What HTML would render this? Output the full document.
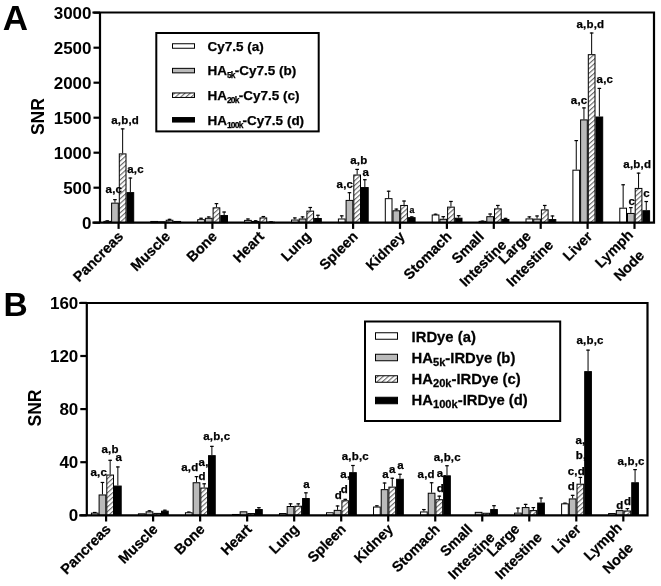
<!DOCTYPE html>
<html><head><meta charset="utf-8"><style>
html,body{margin:0;padding:0;background:#fff;}
svg{display:block;will-change:transform;filter:blur(0.35px);font-family:"Liberation Sans", Arial, sans-serif;font-weight:bold;}
.h{stroke:#000;stroke-width:0.25px;}
</style></head><body>
<svg width="661" height="586" viewBox="0 0 661 586">
<defs>
<pattern id="hatch" patternUnits="userSpaceOnUse" width="3.5" height="3.5" patternTransform="rotate(48)">
<rect width="3.5" height="3.5" fill="#fff"/>
<line x1="0.6" y1="0" x2="0.6" y2="3.5" stroke="#555" stroke-width="1.0"/>
</pattern>
</defs>


<line x1="107.25" y1="220.88" x2="107.25" y2="220.32" stroke="#000" stroke-width="1"/>
<line x1="105.45" y1="220.82" x2="109.05" y2="220.82" stroke="#000" stroke-width="1.2"/>
<rect x="103.90" y="221.38" width="6.70" height="1.32" fill="#fff" stroke="#000" stroke-width="1"/>
<line x1="114.95" y1="202.64" x2="114.95" y2="199.14" stroke="#000" stroke-width="1"/>
<line x1="113.15" y1="199.64" x2="116.75" y2="199.64" stroke="#000" stroke-width="1.2"/>
<rect x="111.60" y="203.14" width="6.70" height="19.56" fill="#bababa" stroke="#000" stroke-width="1"/>
<line x1="122.65" y1="153.41" x2="122.65" y2="128.38" stroke="#000" stroke-width="1"/>
<line x1="120.85" y1="128.88" x2="124.45" y2="128.88" stroke="#000" stroke-width="1.2"/>
<rect x="119.30" y="153.91" width="6.70" height="68.79" fill="url(#hatch)" stroke="#000" stroke-width="1"/>
<line x1="130.35" y1="192.12" x2="130.35" y2="177.54" stroke="#000" stroke-width="1"/>
<line x1="128.55" y1="178.04" x2="132.15" y2="178.04" stroke="#000" stroke-width="1.2"/>
<rect x="127.00" y="192.62" width="6.70" height="30.08" fill="#000" stroke="#000" stroke-width="1"/>
<rect x="150.80" y="221.45" width="6.70" height="1.25" fill="#fff" stroke="#000" stroke-width="1"/>
<rect x="158.50" y="221.80" width="6.70" height="0.90" fill="#bababa" stroke="#000" stroke-width="1"/>
<line x1="169.55" y1="219.75" x2="169.55" y2="218.84" stroke="#000" stroke-width="1"/>
<line x1="167.75" y1="219.34" x2="171.35" y2="219.34" stroke="#000" stroke-width="1.2"/>
<rect x="166.20" y="220.25" width="6.70" height="2.45" fill="url(#hatch)" stroke="#000" stroke-width="1"/>
<rect x="173.90" y="221.45" width="6.70" height="1.25" fill="#000" stroke="#000" stroke-width="1"/>
<line x1="201.05" y1="219.19" x2="201.05" y2="217.79" stroke="#000" stroke-width="1"/>
<line x1="199.25" y1="218.29" x2="202.85" y2="218.29" stroke="#000" stroke-width="1.2"/>
<rect x="197.70" y="219.69" width="6.70" height="3.01" fill="#fff" stroke="#000" stroke-width="1"/>
<line x1="208.75" y1="217.79" x2="208.75" y2="216.46" stroke="#000" stroke-width="1"/>
<line x1="206.95" y1="216.96" x2="210.55" y2="216.96" stroke="#000" stroke-width="1.2"/>
<rect x="205.40" y="218.29" width="6.70" height="4.41" fill="#bababa" stroke="#000" stroke-width="1"/>
<line x1="216.45" y1="207.34" x2="216.45" y2="203.13" stroke="#000" stroke-width="1"/>
<line x1="214.65" y1="203.63" x2="218.25" y2="203.63" stroke="#000" stroke-width="1.2"/>
<rect x="213.10" y="207.84" width="6.70" height="14.86" fill="url(#hatch)" stroke="#000" stroke-width="1"/>
<line x1="224.15" y1="215.06" x2="224.15" y2="211.55" stroke="#000" stroke-width="1"/>
<line x1="222.35" y1="212.05" x2="225.95" y2="212.05" stroke="#000" stroke-width="1.2"/>
<rect x="220.80" y="215.56" width="6.70" height="7.14" fill="#000" stroke="#000" stroke-width="1"/>
<line x1="247.95" y1="219.89" x2="247.95" y2="218.49" stroke="#000" stroke-width="1"/>
<line x1="246.15" y1="218.99" x2="249.75" y2="218.99" stroke="#000" stroke-width="1.2"/>
<rect x="244.60" y="220.39" width="6.70" height="2.31" fill="#fff" stroke="#000" stroke-width="1"/>
<line x1="255.65" y1="220.95" x2="255.65" y2="220.25" stroke="#000" stroke-width="1"/>
<line x1="253.85" y1="220.75" x2="257.45" y2="220.75" stroke="#000" stroke-width="1.2"/>
<rect x="252.30" y="221.45" width="6.70" height="1.25" fill="#bababa" stroke="#000" stroke-width="1"/>
<line x1="263.35" y1="217.44" x2="263.35" y2="216.04" stroke="#000" stroke-width="1"/>
<line x1="261.55" y1="216.54" x2="265.15" y2="216.54" stroke="#000" stroke-width="1.2"/>
<rect x="260.00" y="217.94" width="6.70" height="4.76" fill="url(#hatch)" stroke="#000" stroke-width="1"/>
<line x1="271.05" y1="221.65" x2="271.05" y2="221.30" stroke="#000" stroke-width="1"/>
<line x1="269.25" y1="221.80" x2="272.85" y2="221.80" stroke="#000" stroke-width="1.2"/>
<rect x="267.70" y="222.15" width="6.70" height="0.55" fill="#000" stroke="#000" stroke-width="1"/>
<line x1="294.85" y1="219.54" x2="294.85" y2="217.44" stroke="#000" stroke-width="1"/>
<line x1="293.05" y1="217.94" x2="296.65" y2="217.94" stroke="#000" stroke-width="1.2"/>
<rect x="291.50" y="220.04" width="6.70" height="2.66" fill="#fff" stroke="#000" stroke-width="1"/>
<line x1="302.55" y1="218.49" x2="302.55" y2="216.39" stroke="#000" stroke-width="1"/>
<line x1="300.75" y1="216.89" x2="304.35" y2="216.89" stroke="#000" stroke-width="1.2"/>
<rect x="299.20" y="218.99" width="6.70" height="3.71" fill="#bababa" stroke="#000" stroke-width="1"/>
<line x1="310.25" y1="210.64" x2="310.25" y2="206.99" stroke="#000" stroke-width="1"/>
<line x1="308.45" y1="207.49" x2="312.05" y2="207.49" stroke="#000" stroke-width="1.2"/>
<rect x="306.90" y="211.14" width="6.70" height="11.56" fill="url(#hatch)" stroke="#000" stroke-width="1"/>
<line x1="317.95" y1="218.00" x2="317.95" y2="214.78" stroke="#000" stroke-width="1"/>
<line x1="316.15" y1="215.28" x2="319.75" y2="215.28" stroke="#000" stroke-width="1.2"/>
<rect x="314.60" y="218.50" width="6.70" height="4.20" fill="#000" stroke="#000" stroke-width="1"/>
<line x1="341.75" y1="218.49" x2="341.75" y2="215.34" stroke="#000" stroke-width="1"/>
<line x1="339.95" y1="215.84" x2="343.55" y2="215.84" stroke="#000" stroke-width="1.2"/>
<rect x="338.40" y="218.99" width="6.70" height="3.71" fill="#fff" stroke="#000" stroke-width="1"/>
<line x1="349.45" y1="199.91" x2="349.45" y2="192.19" stroke="#000" stroke-width="1"/>
<line x1="347.65" y1="192.69" x2="351.25" y2="192.69" stroke="#000" stroke-width="1.2"/>
<rect x="346.10" y="200.41" width="6.70" height="22.29" fill="#bababa" stroke="#000" stroke-width="1"/>
<line x1="357.15" y1="174.52" x2="357.15" y2="168.91" stroke="#000" stroke-width="1"/>
<line x1="355.35" y1="169.41" x2="358.95" y2="169.41" stroke="#000" stroke-width="1.2"/>
<rect x="353.80" y="175.02" width="6.70" height="47.68" fill="url(#hatch)" stroke="#000" stroke-width="1"/>
<line x1="364.85" y1="187.07" x2="364.85" y2="179.22" stroke="#000" stroke-width="1"/>
<line x1="363.05" y1="179.72" x2="366.65" y2="179.72" stroke="#000" stroke-width="1.2"/>
<rect x="361.50" y="187.57" width="6.70" height="35.13" fill="#000" stroke="#000" stroke-width="1"/>
<line x1="388.65" y1="198.15" x2="388.65" y2="190.72" stroke="#000" stroke-width="1"/>
<line x1="386.85" y1="191.22" x2="390.45" y2="191.22" stroke="#000" stroke-width="1.2"/>
<rect x="385.30" y="198.65" width="6.70" height="24.05" fill="#fff" stroke="#000" stroke-width="1"/>
<line x1="396.35" y1="210.29" x2="396.35" y2="208.60" stroke="#000" stroke-width="1"/>
<line x1="394.55" y1="209.10" x2="398.15" y2="209.10" stroke="#000" stroke-width="1.2"/>
<rect x="393.00" y="210.79" width="6.70" height="11.91" fill="#bababa" stroke="#000" stroke-width="1"/>
<line x1="404.05" y1="204.96" x2="404.05" y2="200.54" stroke="#000" stroke-width="1"/>
<line x1="402.25" y1="201.04" x2="405.85" y2="201.04" stroke="#000" stroke-width="1.2"/>
<rect x="400.70" y="205.46" width="6.70" height="17.24" fill="url(#hatch)" stroke="#000" stroke-width="1"/>
<line x1="411.75" y1="217.16" x2="411.75" y2="216.39" stroke="#000" stroke-width="1"/>
<line x1="409.95" y1="216.89" x2="413.55" y2="216.89" stroke="#000" stroke-width="1.2"/>
<rect x="408.40" y="217.66" width="6.70" height="5.04" fill="#000" stroke="#000" stroke-width="1"/>
<line x1="435.55" y1="214.49" x2="435.55" y2="213.72" stroke="#000" stroke-width="1"/>
<line x1="433.75" y1="214.22" x2="437.35" y2="214.22" stroke="#000" stroke-width="1.2"/>
<rect x="432.20" y="214.99" width="6.70" height="7.71" fill="#fff" stroke="#000" stroke-width="1"/>
<line x1="443.25" y1="218.77" x2="443.25" y2="216.18" stroke="#000" stroke-width="1"/>
<line x1="441.45" y1="216.68" x2="445.05" y2="216.68" stroke="#000" stroke-width="1.2"/>
<rect x="439.90" y="219.27" width="6.70" height="3.43" fill="#bababa" stroke="#000" stroke-width="1"/>
<line x1="450.95" y1="206.64" x2="450.95" y2="200.96" stroke="#000" stroke-width="1"/>
<line x1="449.15" y1="201.46" x2="452.75" y2="201.46" stroke="#000" stroke-width="1.2"/>
<rect x="447.60" y="207.14" width="6.70" height="15.56" fill="url(#hatch)" stroke="#000" stroke-width="1"/>
<line x1="458.65" y1="217.72" x2="458.65" y2="215.20" stroke="#000" stroke-width="1"/>
<line x1="456.85" y1="215.70" x2="460.45" y2="215.70" stroke="#000" stroke-width="1.2"/>
<rect x="455.30" y="218.22" width="6.70" height="4.48" fill="#000" stroke="#000" stroke-width="1"/>
<line x1="482.45" y1="220.88" x2="482.45" y2="220.60" stroke="#000" stroke-width="1"/>
<line x1="480.65" y1="221.10" x2="484.25" y2="221.10" stroke="#000" stroke-width="1.2"/>
<rect x="479.10" y="221.38" width="6.70" height="1.32" fill="#fff" stroke="#000" stroke-width="1"/>
<line x1="490.15" y1="216.18" x2="490.15" y2="213.51" stroke="#000" stroke-width="1"/>
<line x1="488.35" y1="214.01" x2="491.95" y2="214.01" stroke="#000" stroke-width="1.2"/>
<rect x="486.80" y="216.68" width="6.70" height="6.02" fill="#bababa" stroke="#000" stroke-width="1"/>
<line x1="497.85" y1="208.39" x2="497.85" y2="204.96" stroke="#000" stroke-width="1"/>
<line x1="496.05" y1="205.46" x2="499.65" y2="205.46" stroke="#000" stroke-width="1.2"/>
<rect x="494.50" y="208.89" width="6.70" height="13.81" fill="url(#hatch)" stroke="#000" stroke-width="1"/>
<line x1="505.55" y1="218.98" x2="505.55" y2="217.86" stroke="#000" stroke-width="1"/>
<line x1="503.75" y1="218.36" x2="507.35" y2="218.36" stroke="#000" stroke-width="1.2"/>
<rect x="502.20" y="219.48" width="6.70" height="3.22" fill="#000" stroke="#000" stroke-width="1"/>
<line x1="529.35" y1="218.42" x2="529.35" y2="216.39" stroke="#000" stroke-width="1"/>
<line x1="527.55" y1="216.89" x2="531.15" y2="216.89" stroke="#000" stroke-width="1.2"/>
<rect x="526.00" y="218.92" width="6.70" height="3.78" fill="#fff" stroke="#000" stroke-width="1"/>
<line x1="537.05" y1="218.63" x2="537.05" y2="215.48" stroke="#000" stroke-width="1"/>
<line x1="535.25" y1="215.98" x2="538.85" y2="215.98" stroke="#000" stroke-width="1.2"/>
<rect x="533.70" y="219.13" width="6.70" height="3.57" fill="#bababa" stroke="#000" stroke-width="1"/>
<line x1="544.75" y1="209.38" x2="544.75" y2="204.96" stroke="#000" stroke-width="1"/>
<line x1="542.95" y1="205.46" x2="546.55" y2="205.46" stroke="#000" stroke-width="1.2"/>
<rect x="541.40" y="209.88" width="6.70" height="12.82" fill="url(#hatch)" stroke="#000" stroke-width="1"/>
<line x1="552.45" y1="219.05" x2="552.45" y2="215.48" stroke="#000" stroke-width="1"/>
<line x1="550.65" y1="215.98" x2="554.25" y2="215.98" stroke="#000" stroke-width="1.2"/>
<rect x="549.10" y="219.55" width="6.70" height="3.15" fill="#000" stroke="#000" stroke-width="1"/>
<line x1="576.25" y1="169.68" x2="576.25" y2="140.09" stroke="#000" stroke-width="1"/>
<line x1="574.45" y1="140.59" x2="578.05" y2="140.59" stroke="#000" stroke-width="1.2"/>
<rect x="572.90" y="170.18" width="6.70" height="52.52" fill="#fff" stroke="#000" stroke-width="1"/>
<line x1="583.95" y1="119.40" x2="583.95" y2="107.41" stroke="#000" stroke-width="1"/>
<line x1="582.15" y1="107.91" x2="585.75" y2="107.91" stroke="#000" stroke-width="1.2"/>
<rect x="580.60" y="119.90" width="6.70" height="102.80" fill="#bababa" stroke="#000" stroke-width="1"/>
<line x1="591.65" y1="54.18" x2="591.65" y2="32.51" stroke="#000" stroke-width="1"/>
<line x1="589.85" y1="33.01" x2="593.45" y2="33.01" stroke="#000" stroke-width="1.2"/>
<rect x="588.30" y="54.68" width="6.70" height="168.02" fill="url(#hatch)" stroke="#000" stroke-width="1"/>
<line x1="599.35" y1="116.52" x2="599.35" y2="87.91" stroke="#000" stroke-width="1"/>
<line x1="597.55" y1="88.41" x2="601.15" y2="88.41" stroke="#000" stroke-width="1.2"/>
<rect x="596.00" y="117.02" width="6.70" height="105.68" fill="#000" stroke="#000" stroke-width="1"/>
<line x1="623.15" y1="207.69" x2="623.15" y2="184.27" stroke="#000" stroke-width="1"/>
<line x1="621.35" y1="184.77" x2="624.95" y2="184.77" stroke="#000" stroke-width="1.2"/>
<rect x="619.80" y="208.19" width="6.70" height="14.51" fill="#fff" stroke="#000" stroke-width="1"/>
<line x1="630.85" y1="212.95" x2="630.85" y2="207.13" stroke="#000" stroke-width="1"/>
<line x1="629.05" y1="207.63" x2="632.65" y2="207.63" stroke="#000" stroke-width="1.2"/>
<rect x="627.50" y="213.45" width="6.70" height="9.25" fill="#bababa" stroke="#000" stroke-width="1"/>
<line x1="638.55" y1="187.92" x2="638.55" y2="172.63" stroke="#000" stroke-width="1"/>
<line x1="636.75" y1="173.13" x2="640.35" y2="173.13" stroke="#000" stroke-width="1.2"/>
<rect x="635.20" y="188.42" width="6.70" height="34.28" fill="url(#hatch)" stroke="#000" stroke-width="1"/>
<line x1="646.25" y1="210.22" x2="646.25" y2="201.03" stroke="#000" stroke-width="1"/>
<line x1="644.45" y1="201.53" x2="648.05" y2="201.53" stroke="#000" stroke-width="1.2"/>
<rect x="642.90" y="210.72" width="6.70" height="11.98" fill="#000" stroke="#000" stroke-width="1"/>
<text class="h" x="105.55" y="193.30" font-size="11.5" letter-spacing="0.2">a,c</text>
<text class="h" x="111.25" y="124.00" font-size="11.5" letter-spacing="0.2">a,b,d</text>
<text class="h" x="127.15" y="172.50" font-size="11.5" letter-spacing="0.2">a,c</text>
<text class="h" x="336.55" y="188.40" font-size="11.5" letter-spacing="0.2">a,c</text>
<text class="h" x="350.25" y="164.20" font-size="11.5" letter-spacing="0.2">a,b</text>
<text class="h" x="362.55" y="175.50" font-size="11.5" letter-spacing="0.2">a</text>
<text class="h" x="409.55" y="212.60" font-size="8.8" letter-spacing="0.2">a</text>
<text class="h" x="570.85" y="103.70" font-size="11.5" letter-spacing="0.2">a,c</text>
<text class="h" x="576.45" y="27.80" font-size="11.5" letter-spacing="0.2">a,b,d</text>
<text class="h" x="596.55" y="82.70" font-size="11.5" letter-spacing="0.2">a,c</text>
<text class="h" x="628.45" y="204.60" font-size="11.5" letter-spacing="0.2">c</text>
<text class="h" x="623.35" y="168.30" font-size="11.5" letter-spacing="0.2">a,b,d</text>
<text class="h" x="643.25" y="197.40" font-size="11.5" letter-spacing="0.2">c</text>
<path d="M100,12.5 V222.7 M93.5,222.7 H654 V12.5 H93.5" fill="none" stroke="#000" stroke-width="2.2" stroke-linecap="square"/>
<line x1="93.5" y1="222.70" x2="100" y2="222.70" stroke="#000" stroke-width="2.2"/>
<text x="91.5" y="228.80" font-size="17" text-anchor="end">0</text>
<line x1="93.5" y1="187.70" x2="100" y2="187.70" stroke="#000" stroke-width="2.2"/>
<text x="91.5" y="193.80" font-size="17" text-anchor="end">500</text>
<line x1="93.5" y1="152.70" x2="100" y2="152.70" stroke="#000" stroke-width="2.2"/>
<text x="91.5" y="158.80" font-size="17" text-anchor="end">1000</text>
<line x1="93.5" y1="117.70" x2="100" y2="117.70" stroke="#000" stroke-width="2.2"/>
<text x="91.5" y="123.80" font-size="17" text-anchor="end">1500</text>
<line x1="93.5" y1="82.70" x2="100" y2="82.70" stroke="#000" stroke-width="2.2"/>
<text x="91.5" y="88.80" font-size="17" text-anchor="end">2000</text>
<line x1="93.5" y1="47.70" x2="100" y2="47.70" stroke="#000" stroke-width="2.2"/>
<text x="91.5" y="53.80" font-size="17" text-anchor="end">2500</text>
<line x1="93.5" y1="12.70" x2="100" y2="12.70" stroke="#000" stroke-width="2.2"/>
<text x="91.5" y="18.80" font-size="17" text-anchor="end">3000</text>
<line x1="118.60" y1="222.7" x2="118.60" y2="228.89999999999998" stroke="#000" stroke-width="2.2"/>
<line x1="165.50" y1="222.7" x2="165.50" y2="228.89999999999998" stroke="#000" stroke-width="2.2"/>
<line x1="212.40" y1="222.7" x2="212.40" y2="228.89999999999998" stroke="#000" stroke-width="2.2"/>
<line x1="259.30" y1="222.7" x2="259.30" y2="228.89999999999998" stroke="#000" stroke-width="2.2"/>
<line x1="306.20" y1="222.7" x2="306.20" y2="228.89999999999998" stroke="#000" stroke-width="2.2"/>
<line x1="353.10" y1="222.7" x2="353.10" y2="228.89999999999998" stroke="#000" stroke-width="2.2"/>
<line x1="400.00" y1="222.7" x2="400.00" y2="228.89999999999998" stroke="#000" stroke-width="2.2"/>
<line x1="446.90" y1="222.7" x2="446.90" y2="228.89999999999998" stroke="#000" stroke-width="2.2"/>
<line x1="493.80" y1="222.7" x2="493.80" y2="228.89999999999998" stroke="#000" stroke-width="2.2"/>
<line x1="540.70" y1="222.7" x2="540.70" y2="228.89999999999998" stroke="#000" stroke-width="2.2"/>
<line x1="587.60" y1="222.7" x2="587.60" y2="228.89999999999998" stroke="#000" stroke-width="2.2"/>
<line x1="634.50" y1="222.7" x2="634.50" y2="228.89999999999998" stroke="#000" stroke-width="2.2"/>
<text class="h" transform="translate(124.20,237.40) rotate(-45)" font-size="14.4" text-anchor="end">Pancreas</text>
<text class="h" transform="translate(171.10,237.40) rotate(-45)" font-size="14.4" text-anchor="end">Muscle</text>
<text class="h" transform="translate(218.00,237.40) rotate(-45)" font-size="14.4" text-anchor="end">Bone</text>
<text class="h" transform="translate(264.90,237.40) rotate(-45)" font-size="14.4" text-anchor="end">Heart</text>
<text class="h" transform="translate(311.80,237.40) rotate(-45)" font-size="14.4" text-anchor="end">Lung</text>
<text class="h" transform="translate(358.70,237.40) rotate(-45)" font-size="14.4" text-anchor="end">Spleen</text>
<text class="h" transform="translate(405.60,237.40) rotate(-45)" font-size="14.4" text-anchor="end">Kidney</text>
<text class="h" transform="translate(452.50,237.40) rotate(-45)" font-size="14.4" text-anchor="end">Stomach</text>
<g transform="translate(499.40,237.40) rotate(-45)">
<text class="h" x="-29.60" y="-10.30" font-size="14.4" text-anchor="middle">Small</text>
<text class="h" x="-29.90" y="11.50" font-size="14.4" text-anchor="middle">Intestine</text>
</g>
<g transform="translate(546.30,237.40) rotate(-45)">
<text class="h" x="-29.60" y="-10.30" font-size="14.4" text-anchor="middle">Large</text>
<text class="h" x="-29.90" y="11.50" font-size="14.4" text-anchor="middle">Intestine</text>
</g>
<text class="h" transform="translate(593.20,237.40) rotate(-45)" font-size="14.4" text-anchor="end">Liver</text>
<g transform="translate(640.10,237.40) rotate(-45)">
<text class="h" x="-26.60" y="-5.50" font-size="14.4" text-anchor="middle">Lymph</text>
<text class="h" x="-27.80" y="17.00" font-size="14.4" text-anchor="middle">Node</text>
</g>
<line x1="94.75" y1="512.64" x2="94.75" y2="511.98" stroke="#000" stroke-width="1"/>
<line x1="92.95" y1="512.48" x2="96.55" y2="512.48" stroke="#000" stroke-width="1.2"/>
<rect x="91.40" y="513.14" width="6.70" height="2.15" fill="#fff" stroke="#000" stroke-width="1"/>
<line x1="102.45" y1="494.46" x2="102.45" y2="481.98" stroke="#000" stroke-width="1"/>
<line x1="100.65" y1="482.48" x2="104.25" y2="482.48" stroke="#000" stroke-width="1.2"/>
<rect x="99.10" y="494.96" width="6.70" height="20.34" fill="#bababa" stroke="#000" stroke-width="1"/>
<line x1="110.15" y1="474.55" x2="110.15" y2="459.81" stroke="#000" stroke-width="1"/>
<line x1="108.35" y1="460.31" x2="111.95" y2="460.31" stroke="#000" stroke-width="1.2"/>
<rect x="106.80" y="475.05" width="6.70" height="40.25" fill="url(#hatch)" stroke="#000" stroke-width="1"/>
<line x1="117.85" y1="485.56" x2="117.85" y2="466.45" stroke="#000" stroke-width="1"/>
<line x1="116.05" y1="466.95" x2="119.65" y2="466.95" stroke="#000" stroke-width="1.2"/>
<rect x="114.50" y="486.06" width="6.70" height="29.24" fill="#000" stroke="#000" stroke-width="1"/>
<rect x="138.42" y="513.81" width="6.70" height="1.49" fill="#fff" stroke="#000" stroke-width="1"/>
<line x1="149.47" y1="511.32" x2="149.47" y2="510.26" stroke="#000" stroke-width="1"/>
<line x1="147.67" y1="510.76" x2="151.27" y2="510.76" stroke="#000" stroke-width="1.2"/>
<rect x="146.12" y="511.82" width="6.70" height="3.48" fill="#bababa" stroke="#000" stroke-width="1"/>
<rect x="153.82" y="513.41" width="6.70" height="1.89" fill="url(#hatch)" stroke="#000" stroke-width="1"/>
<line x1="164.87" y1="510.65" x2="164.87" y2="509.72" stroke="#000" stroke-width="1"/>
<line x1="163.07" y1="510.22" x2="166.67" y2="510.22" stroke="#000" stroke-width="1.2"/>
<rect x="161.52" y="511.15" width="6.70" height="4.15" fill="#000" stroke="#000" stroke-width="1"/>
<line x1="188.79" y1="512.25" x2="188.79" y2="511.58" stroke="#000" stroke-width="1"/>
<line x1="186.99" y1="512.08" x2="190.59" y2="512.08" stroke="#000" stroke-width="1.2"/>
<rect x="185.44" y="512.75" width="6.70" height="2.55" fill="#fff" stroke="#000" stroke-width="1"/>
<line x1="196.49" y1="482.25" x2="196.49" y2="476.14" stroke="#000" stroke-width="1"/>
<line x1="194.69" y1="476.64" x2="198.29" y2="476.64" stroke="#000" stroke-width="1.2"/>
<rect x="193.14" y="482.75" width="6.70" height="32.55" fill="#bababa" stroke="#000" stroke-width="1"/>
<line x1="204.19" y1="487.56" x2="204.19" y2="483.31" stroke="#000" stroke-width="1"/>
<line x1="202.39" y1="483.81" x2="205.99" y2="483.81" stroke="#000" stroke-width="1.2"/>
<rect x="200.84" y="488.06" width="6.70" height="27.24" fill="url(#hatch)" stroke="#000" stroke-width="1"/>
<line x1="211.89" y1="455.16" x2="211.89" y2="445.87" stroke="#000" stroke-width="1"/>
<line x1="210.09" y1="446.37" x2="213.69" y2="446.37" stroke="#000" stroke-width="1.2"/>
<rect x="208.54" y="455.66" width="6.70" height="59.64" fill="#000" stroke="#000" stroke-width="1"/>
<rect x="232.46" y="514.47" width="6.70" height="0.83" fill="#fff" stroke="#000" stroke-width="1"/>
<rect x="240.16" y="511.82" width="6.70" height="3.48" fill="#bababa" stroke="#000" stroke-width="1"/>
<rect x="247.86" y="513.54" width="6.70" height="1.76" fill="url(#hatch)" stroke="#000" stroke-width="1"/>
<line x1="258.91" y1="509.06" x2="258.91" y2="507.20" stroke="#000" stroke-width="1"/>
<line x1="257.11" y1="507.70" x2="260.71" y2="507.70" stroke="#000" stroke-width="1.2"/>
<rect x="255.56" y="509.56" width="6.70" height="5.74" fill="#000" stroke="#000" stroke-width="1"/>
<rect x="279.48" y="513.54" width="6.70" height="1.76" fill="#fff" stroke="#000" stroke-width="1"/>
<line x1="290.53" y1="506.01" x2="290.53" y2="503.35" stroke="#000" stroke-width="1"/>
<line x1="288.73" y1="503.85" x2="292.33" y2="503.85" stroke="#000" stroke-width="1.2"/>
<rect x="287.18" y="506.51" width="6.70" height="8.79" fill="#bababa" stroke="#000" stroke-width="1"/>
<line x1="298.23" y1="505.74" x2="298.23" y2="503.35" stroke="#000" stroke-width="1"/>
<line x1="296.43" y1="503.85" x2="300.03" y2="503.85" stroke="#000" stroke-width="1.2"/>
<rect x="294.88" y="506.24" width="6.70" height="9.06" fill="url(#hatch)" stroke="#000" stroke-width="1"/>
<line x1="305.93" y1="498.04" x2="305.93" y2="492.33" stroke="#000" stroke-width="1"/>
<line x1="304.13" y1="492.83" x2="307.73" y2="492.83" stroke="#000" stroke-width="1.2"/>
<rect x="302.58" y="498.54" width="6.70" height="16.76" fill="#000" stroke="#000" stroke-width="1"/>
<rect x="326.50" y="512.75" width="6.70" height="2.55" fill="#fff" stroke="#000" stroke-width="1"/>
<line x1="337.55" y1="509.86" x2="337.55" y2="505.48" stroke="#000" stroke-width="1"/>
<line x1="335.75" y1="505.98" x2="339.35" y2="505.98" stroke="#000" stroke-width="1.2"/>
<rect x="334.20" y="510.36" width="6.70" height="4.94" fill="#bababa" stroke="#000" stroke-width="1"/>
<line x1="345.25" y1="500.30" x2="345.25" y2="498.84" stroke="#000" stroke-width="1"/>
<line x1="343.45" y1="499.34" x2="347.05" y2="499.34" stroke="#000" stroke-width="1.2"/>
<rect x="341.90" y="500.80" width="6.70" height="14.50" fill="url(#hatch)" stroke="#000" stroke-width="1"/>
<line x1="352.95" y1="472.16" x2="352.95" y2="464.99" stroke="#000" stroke-width="1"/>
<line x1="351.15" y1="465.49" x2="354.75" y2="465.49" stroke="#000" stroke-width="1.2"/>
<rect x="349.60" y="472.66" width="6.70" height="42.64" fill="#000" stroke="#000" stroke-width="1"/>
<line x1="376.87" y1="506.54" x2="376.87" y2="505.34" stroke="#000" stroke-width="1"/>
<line x1="375.07" y1="505.84" x2="378.67" y2="505.84" stroke="#000" stroke-width="1.2"/>
<rect x="373.52" y="507.04" width="6.70" height="8.26" fill="#fff" stroke="#000" stroke-width="1"/>
<line x1="384.57" y1="489.15" x2="384.57" y2="482.51" stroke="#000" stroke-width="1"/>
<line x1="382.77" y1="483.01" x2="386.37" y2="483.01" stroke="#000" stroke-width="1.2"/>
<rect x="381.22" y="489.65" width="6.70" height="25.65" fill="#bababa" stroke="#000" stroke-width="1"/>
<line x1="392.27" y1="486.63" x2="392.27" y2="477.73" stroke="#000" stroke-width="1"/>
<line x1="390.47" y1="478.23" x2="394.07" y2="478.23" stroke="#000" stroke-width="1.2"/>
<rect x="388.92" y="487.13" width="6.70" height="28.17" fill="url(#hatch)" stroke="#000" stroke-width="1"/>
<line x1="399.97" y1="478.79" x2="399.97" y2="473.75" stroke="#000" stroke-width="1"/>
<line x1="398.17" y1="474.25" x2="401.77" y2="474.25" stroke="#000" stroke-width="1.2"/>
<rect x="396.62" y="479.29" width="6.70" height="36.01" fill="#000" stroke="#000" stroke-width="1"/>
<line x1="423.89" y1="511.45" x2="423.89" y2="509.06" stroke="#000" stroke-width="1"/>
<line x1="422.09" y1="509.56" x2="425.69" y2="509.56" stroke="#000" stroke-width="1.2"/>
<rect x="420.54" y="511.95" width="6.70" height="3.35" fill="#fff" stroke="#000" stroke-width="1"/>
<line x1="431.59" y1="492.73" x2="431.59" y2="482.25" stroke="#000" stroke-width="1"/>
<line x1="429.79" y1="482.75" x2="433.39" y2="482.75" stroke="#000" stroke-width="1.2"/>
<rect x="428.24" y="493.23" width="6.70" height="22.07" fill="#bababa" stroke="#000" stroke-width="1"/>
<line x1="439.29" y1="499.24" x2="439.29" y2="495.65" stroke="#000" stroke-width="1"/>
<line x1="437.49" y1="496.15" x2="441.09" y2="496.15" stroke="#000" stroke-width="1.2"/>
<rect x="435.94" y="499.74" width="6.70" height="15.56" fill="url(#hatch)" stroke="#000" stroke-width="1"/>
<line x1="446.99" y1="475.34" x2="446.99" y2="465.25" stroke="#000" stroke-width="1"/>
<line x1="445.19" y1="465.75" x2="448.79" y2="465.75" stroke="#000" stroke-width="1.2"/>
<rect x="443.64" y="475.84" width="6.70" height="39.46" fill="#000" stroke="#000" stroke-width="1"/>
<rect x="475.26" y="512.35" width="6.70" height="2.95" fill="#bababa" stroke="#000" stroke-width="1"/>
<rect x="482.96" y="513.28" width="6.70" height="2.02" fill="url(#hatch)" stroke="#000" stroke-width="1"/>
<line x1="494.01" y1="509.06" x2="494.01" y2="505.21" stroke="#000" stroke-width="1"/>
<line x1="492.21" y1="505.71" x2="495.81" y2="505.71" stroke="#000" stroke-width="1.2"/>
<rect x="490.66" y="509.56" width="6.70" height="5.74" fill="#000" stroke="#000" stroke-width="1"/>
<line x1="517.93" y1="512.64" x2="517.93" y2="507.60" stroke="#000" stroke-width="1"/>
<line x1="516.13" y1="508.10" x2="519.73" y2="508.10" stroke="#000" stroke-width="1.2"/>
<rect x="514.58" y="513.14" width="6.70" height="2.15" fill="#fff" stroke="#000" stroke-width="1"/>
<line x1="525.63" y1="507.07" x2="525.63" y2="503.88" stroke="#000" stroke-width="1"/>
<line x1="523.83" y1="504.38" x2="527.43" y2="504.38" stroke="#000" stroke-width="1.2"/>
<rect x="522.28" y="507.57" width="6.70" height="7.73" fill="#bababa" stroke="#000" stroke-width="1"/>
<line x1="533.33" y1="510.12" x2="533.33" y2="507.07" stroke="#000" stroke-width="1"/>
<line x1="531.53" y1="507.57" x2="535.13" y2="507.57" stroke="#000" stroke-width="1.2"/>
<rect x="529.98" y="510.62" width="6.70" height="4.68" fill="url(#hatch)" stroke="#000" stroke-width="1"/>
<line x1="541.03" y1="502.56" x2="541.03" y2="497.51" stroke="#000" stroke-width="1"/>
<line x1="539.23" y1="498.01" x2="542.83" y2="498.01" stroke="#000" stroke-width="1.2"/>
<rect x="537.68" y="503.06" width="6.70" height="12.24" fill="#000" stroke="#000" stroke-width="1"/>
<line x1="564.95" y1="503.35" x2="564.95" y2="502.69" stroke="#000" stroke-width="1"/>
<line x1="563.15" y1="503.19" x2="566.75" y2="503.19" stroke="#000" stroke-width="1.2"/>
<rect x="561.60" y="503.85" width="6.70" height="11.45" fill="#fff" stroke="#000" stroke-width="1"/>
<line x1="572.65" y1="498.44" x2="572.65" y2="494.86" stroke="#000" stroke-width="1"/>
<line x1="570.85" y1="495.36" x2="574.45" y2="495.36" stroke="#000" stroke-width="1.2"/>
<rect x="569.30" y="498.94" width="6.70" height="16.36" fill="#bababa" stroke="#000" stroke-width="1"/>
<line x1="580.35" y1="483.71" x2="580.35" y2="476.94" stroke="#000" stroke-width="1"/>
<line x1="578.55" y1="477.44" x2="582.15" y2="477.44" stroke="#000" stroke-width="1.2"/>
<rect x="577.00" y="484.21" width="6.70" height="31.09" fill="url(#hatch)" stroke="#000" stroke-width="1"/>
<line x1="588.05" y1="371.13" x2="588.05" y2="349.63" stroke="#000" stroke-width="1"/>
<line x1="586.25" y1="350.13" x2="589.85" y2="350.13" stroke="#000" stroke-width="1.2"/>
<rect x="584.70" y="371.63" width="6.70" height="143.67" fill="#000" stroke="#000" stroke-width="1"/>
<rect x="608.62" y="513.54" width="6.70" height="1.76" fill="#fff" stroke="#000" stroke-width="1"/>
<rect x="616.32" y="510.62" width="6.70" height="4.68" fill="#bababa" stroke="#000" stroke-width="1"/>
<line x1="627.37" y1="510.52" x2="627.37" y2="508.13" stroke="#000" stroke-width="1"/>
<line x1="625.57" y1="508.63" x2="629.17" y2="508.63" stroke="#000" stroke-width="1.2"/>
<rect x="624.02" y="511.02" width="6.70" height="4.28" fill="url(#hatch)" stroke="#000" stroke-width="1"/>
<line x1="635.07" y1="482.25" x2="635.07" y2="469.10" stroke="#000" stroke-width="1"/>
<line x1="633.27" y1="469.60" x2="636.87" y2="469.60" stroke="#000" stroke-width="1.2"/>
<rect x="631.72" y="482.75" width="6.70" height="32.55" fill="#000" stroke="#000" stroke-width="1"/>
<text class="h" x="90.45" y="476.20" font-size="11.5" letter-spacing="0.2">a,c</text>
<text class="h" x="101.45" y="453.20" font-size="11.5" letter-spacing="0.2">a,b</text>
<text class="h" x="115.55" y="461.30" font-size="11.5" letter-spacing="0.2">a</text>
<text class="h" x="181.15" y="470.50" font-size="11.5" letter-spacing="0.2">a,d</text>
<text class="h" x="198.55" y="466.40" font-size="11.5" letter-spacing="0.2">a,</text>
<text class="h" x="198.55" y="479.70" font-size="11.5" letter-spacing="0.2">d</text>
<text class="h" x="203.15" y="440.20" font-size="11.5" letter-spacing="0.2">a,b,c</text>
<text class="h" x="303.25" y="488.30" font-size="11.5" letter-spacing="0.2">a</text>
<text class="h" x="334.75" y="499.30" font-size="11.5" letter-spacing="0.2">d</text>
<text class="h" x="340.85" y="493.40" font-size="11.5" letter-spacing="0.2">d</text>
<text class="h" x="340.35" y="478.20" font-size="11.5" letter-spacing="0.2">a,</text>
<text class="h" x="341.75" y="460.30" font-size="11.5" letter-spacing="0.2">a,b,c</text>
<text class="h" x="382.25" y="478.30" font-size="11.5" letter-spacing="0.2">a</text>
<text class="h" x="388.95" y="473.30" font-size="11.5" letter-spacing="0.2">a</text>
<text class="h" x="397.25" y="469.40" font-size="11.5" letter-spacing="0.2">a</text>
<text class="h" x="417.55" y="478.00" font-size="11.5" letter-spacing="0.2">a,d</text>
<text class="h" x="436.65" y="476.90" font-size="11.5" letter-spacing="0.2">a,</text>
<text class="h" x="436.65" y="491.50" font-size="11.5" letter-spacing="0.2">d</text>
<text class="h" x="433.65" y="460.70" font-size="11.5" letter-spacing="0.2">a,b,c</text>
<text class="h" x="567.75" y="489.80" font-size="11.5" letter-spacing="0.2">d</text>
<text class="h" x="567.75" y="475.20" font-size="11.5" letter-spacing="0.2">c,d</text>
<text class="h" x="575.75" y="458.50" font-size="11.5" letter-spacing="0.2">b,</text>
<text class="h" x="575.45" y="444.20" font-size="11.5" letter-spacing="0.2">a,</text>
<text class="h" x="576.45" y="344.20" font-size="11.5" letter-spacing="0.2">a,b,c</text>
<text class="h" x="616.25" y="508.50" font-size="11.5" letter-spacing="0.2">d</text>
<text class="h" x="624.05" y="505.10" font-size="11.5" letter-spacing="0.2">d</text>
<text class="h" x="617.45" y="464.60" font-size="11.5" letter-spacing="0.2">a,b,c</text>
<path d="M86.8,303.0 V515.3 M80.3,515.3 H647.5 V303.0 H80.3" fill="none" stroke="#000" stroke-width="2.2" stroke-linecap="square"/>
<line x1="80.3" y1="515.30" x2="86.8" y2="515.30" stroke="#000" stroke-width="2.2"/>
<text x="78.3" y="521.40" font-size="17" text-anchor="end">0</text>
<line x1="80.3" y1="462.20" x2="86.8" y2="462.20" stroke="#000" stroke-width="2.2"/>
<text x="78.3" y="468.30" font-size="17" text-anchor="end">40</text>
<line x1="80.3" y1="409.10" x2="86.8" y2="409.10" stroke="#000" stroke-width="2.2"/>
<text x="78.3" y="415.20" font-size="17" text-anchor="end">80</text>
<line x1="80.3" y1="356.00" x2="86.8" y2="356.00" stroke="#000" stroke-width="2.2"/>
<text x="78.3" y="362.10" font-size="17" text-anchor="end">120</text>
<line x1="80.3" y1="302.90" x2="86.8" y2="302.90" stroke="#000" stroke-width="2.2"/>
<text x="78.3" y="309.00" font-size="17" text-anchor="end">160</text>
<line x1="106.10" y1="515.3" x2="106.10" y2="521.5" stroke="#000" stroke-width="2.2"/>
<line x1="153.12" y1="515.3" x2="153.12" y2="521.5" stroke="#000" stroke-width="2.2"/>
<line x1="200.14" y1="515.3" x2="200.14" y2="521.5" stroke="#000" stroke-width="2.2"/>
<line x1="247.16" y1="515.3" x2="247.16" y2="521.5" stroke="#000" stroke-width="2.2"/>
<line x1="294.18" y1="515.3" x2="294.18" y2="521.5" stroke="#000" stroke-width="2.2"/>
<line x1="341.20" y1="515.3" x2="341.20" y2="521.5" stroke="#000" stroke-width="2.2"/>
<line x1="388.22" y1="515.3" x2="388.22" y2="521.5" stroke="#000" stroke-width="2.2"/>
<line x1="435.24" y1="515.3" x2="435.24" y2="521.5" stroke="#000" stroke-width="2.2"/>
<line x1="482.26" y1="515.3" x2="482.26" y2="521.5" stroke="#000" stroke-width="2.2"/>
<line x1="529.28" y1="515.3" x2="529.28" y2="521.5" stroke="#000" stroke-width="2.2"/>
<line x1="576.30" y1="515.3" x2="576.30" y2="521.5" stroke="#000" stroke-width="2.2"/>
<line x1="623.32" y1="515.3" x2="623.32" y2="521.5" stroke="#000" stroke-width="2.2"/>
<text class="h" transform="translate(111.70,530.00) rotate(-45)" font-size="14.4" text-anchor="end">Pancreas</text>
<text class="h" transform="translate(158.72,530.00) rotate(-45)" font-size="14.4" text-anchor="end">Muscle</text>
<text class="h" transform="translate(205.74,530.00) rotate(-45)" font-size="14.4" text-anchor="end">Bone</text>
<text class="h" transform="translate(252.76,530.00) rotate(-45)" font-size="14.4" text-anchor="end">Heart</text>
<text class="h" transform="translate(299.78,530.00) rotate(-45)" font-size="14.4" text-anchor="end">Lung</text>
<text class="h" transform="translate(346.80,530.00) rotate(-45)" font-size="14.4" text-anchor="end">Spleen</text>
<text class="h" transform="translate(393.82,530.00) rotate(-45)" font-size="14.4" text-anchor="end">Kidney</text>
<text class="h" transform="translate(440.84,530.00) rotate(-45)" font-size="14.4" text-anchor="end">Stomach</text>
<g transform="translate(487.86,530.00) rotate(-45)">
<text class="h" x="-29.60" y="-10.30" font-size="14.4" text-anchor="middle">Small</text>
<text class="h" x="-29.90" y="11.50" font-size="14.4" text-anchor="middle">Intestine</text>
</g>
<g transform="translate(534.88,530.00) rotate(-45)">
<text class="h" x="-29.60" y="-10.30" font-size="14.4" text-anchor="middle">Large</text>
<text class="h" x="-29.90" y="11.50" font-size="14.4" text-anchor="middle">Intestine</text>
</g>
<text class="h" transform="translate(581.90,530.00) rotate(-45)" font-size="14.4" text-anchor="end">Liver</text>
<g transform="translate(628.92,530.00) rotate(-45)">
<text class="h" x="-26.60" y="-5.50" font-size="14.4" text-anchor="middle">Lymph</text>
<text class="h" x="-27.80" y="17.00" font-size="14.4" text-anchor="middle">Node</text>
</g>
<rect x="156.3" y="33" width="162.4" height="98.4" fill="none" stroke="#000" stroke-width="2"/>
<rect x="172.5" y="43.75" width="22" height="4.5" fill="#fff" stroke="#000" stroke-width="1"/>
<text class="h" x="207.4" y="50.86" font-size="13.5">Cy7.5 (a)</text>
<rect x="172.5" y="68.35" width="22" height="4.5" fill="#bababa" stroke="#000" stroke-width="1"/>
<text class="h" x="207.4" y="75.46" font-size="13.5">HA<tspan font-size="8.5" dy="3" letter-spacing="-0.8">5k</tspan><tspan dy="-3">-Cy7.5 (b)</tspan></text>
<rect x="172.5" y="92.95" width="22" height="4.5" fill="url(#hatch)" stroke="#000" stroke-width="1"/>
<text class="h" x="207.4" y="100.06" font-size="13.5">HA<tspan font-size="8.5" dy="3" letter-spacing="-0.8">20k</tspan><tspan dy="-3">-Cy7.5 (c)</tspan></text>
<rect x="172.5" y="117.55" width="22" height="4.5" fill="#000" stroke="#000" stroke-width="1"/>
<text class="h" x="207.4" y="124.66" font-size="13.5">HA<tspan font-size="8.5" dy="3" letter-spacing="-0.8">100k</tspan><tspan dy="-3">-Cy7.5 (d)</tspan></text>
<rect x="365" y="321.5" width="195.2" height="99.5" fill="none" stroke="#000" stroke-width="2"/>
<rect x="375.5" y="332.75" width="22" height="6.5" fill="#fff" stroke="#000" stroke-width="1"/>
<text class="h" transform="translate(411.6,342.00) scale(1.06,1)" font-size="14">IRDye (a)</text>
<rect x="375.5" y="354.25" width="22" height="6.5" fill="#bababa" stroke="#000" stroke-width="1"/>
<text class="h" transform="translate(411.6,362.80) scale(1.06,1)" font-size="14">HA<tspan font-size="10.5" dy="3">5k</tspan><tspan dy="-3">-IRDye (b)</tspan></text>
<rect x="375.5" y="375.75" width="22" height="6.5" fill="url(#hatch)" stroke="#000" stroke-width="1"/>
<text class="h" transform="translate(411.6,383.60) scale(1.06,1)" font-size="14">HA<tspan font-size="10.5" dy="3">20k</tspan><tspan dy="-3">-IRDye (c)</tspan></text>
<rect x="375.5" y="397.25" width="22" height="6.5" fill="#000" stroke="#000" stroke-width="1"/>
<text class="h" transform="translate(411.6,404.60) scale(1.06,1)" font-size="14">HA<tspan font-size="10.5" dy="3">100k</tspan><tspan dy="-3">-IRDye (d)</tspan></text>
<text x="2.8" y="29.8" font-size="35">A</text>
<text x="3.6" y="315.6" font-size="33.5">B</text>
<text transform="translate(43.6,116.6) rotate(-90)" font-size="17.5" text-anchor="middle">SNR</text>
<text transform="translate(40.9,408) rotate(-90)" font-size="17.5" text-anchor="middle">SNR</text>
</svg></body></html>
